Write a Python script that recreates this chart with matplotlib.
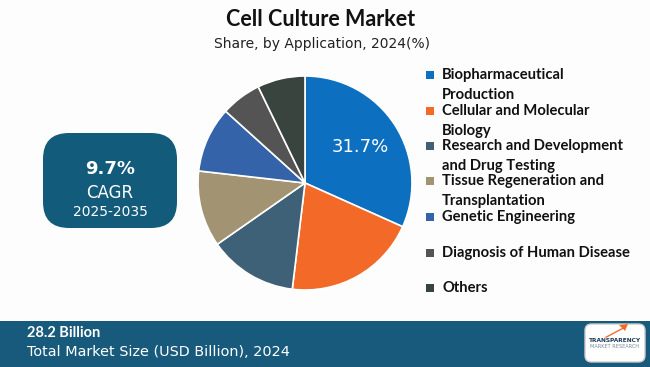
import matplotlib
matplotlib.use("Agg")
import matplotlib.pyplot as plt
from matplotlib.patches import FancyBboxPatch, Rectangle
import numpy as np

# data
applications = ["Biopharmaceutical\nProduction", "Cellular and Molecular\nBiology",
                "Research and Development\nand Drug Testing", "Tissue Regeneration and\nTransplantation",
                "Genetic Engineering", "Diagnosis of Human Disease", "Others"]
shares = [31.7, 20.2, 13.4, 11.5, 9.9, 6.1, 7.2]
colors = ["#0d6fc0", "#f36a28", "#3f6177", "#a29473", "#3463a9", "#545454", "#3a443f"]
cagr = "9.7%"
cagr_period = "2025-2035"
market_size = "28.2 Billion"

W, H = 650, 367
fig = plt.figure(figsize=(W / 100, H / 100), dpi=100, facecolor="#fdfdfd")

def fx(x):
    return x / W

def fy(y):
    return 1 - y / H

# titles
fig.text(fx(321), fy(20), "Cell Culture Market", ha="center", va="center",
         fontsize=15.5, fontweight="bold", family="Lato", color="#111111")
fig.text(fx(322), fy(44), "Share, by Application, 2024(%)", ha="center", va="center",
         fontsize=10, family="DejaVu Sans", color="#222222")

# pie
cx, cy, r = 305, 183, 107
ax = fig.add_axes([fx(cx - r), fy(cy + r), 2 * r / W, 2 * r / H])
wedges, _ = ax.pie(shares, colors=colors, startangle=90, counterclock=False,
                   wedgeprops=dict(edgecolor="white", linewidth=1.2))
ax.set_xlim(-1, 1)
ax.set_ylim(-1, 1)
ax.set_aspect("equal")
w0 = wedges[0]
mid = np.deg2rad((w0.theta1 + w0.theta2) / 2)
ax.text(0.62 * np.cos(mid), 0.62 * np.sin(mid), f"{shares[0]}%", ha="center", va="center",
        fontsize=13, color="white", family="DejaVu Sans")

# legend
leg_y = [75, 111, 146, 181, 217, 253, 288]
for lab, col, y in zip(applications, colors, leg_y):
    fig.patches.append(Rectangle((fx(426), fy(y + 4)), 8 / W, 8 / H, transform=fig.transFigure,
                                 facecolor=col, edgecolor="none"))
    lines = lab.split("\n")
    for i, line in enumerate(lines):
        fig.text(fx(442), fy(y + 20 * i), line, ha="left", va="center",
                 fontsize=10.6, fontweight="bold", family="Lato", color="#111111")

# CAGR box
fig.patches.append(FancyBboxPatch((fx(43), fy(228)), 134 / W, 95 / H,
                                  boxstyle="round,pad=0,rounding_size=0.04",
                                  transform=fig.transFigure, facecolor="#135b7a", edgecolor="none",
                                  mutation_aspect=W / H))
fig.text(fx(110), fy(169), cagr, ha="center", va="center", fontsize=13, fontweight="bold",
         color="white", family="DejaVu Sans")
fig.text(fx(110), fy(193), "CAGR", ha="center", va="center", fontsize=12, color="white",
         family="DejaVu Sans")
fig.text(fx(110), fy(212), cagr_period, ha="center", va="center", fontsize=10, color="white",
         family="DejaVu Sans")

# bottom band
fig.patches.append(Rectangle((0, 0), 1, 46 / H, transform=fig.transFigure,
                             facecolor="#175a7b", edgecolor="none"))
fig.text(fx(27), fy(333), market_size, ha="left", va="center", fontsize=10.5, fontweight="bold",
         color="white", family="Lato")
fig.text(fx(27), fy(352), "Total Market Size (USD Billion), 2024", ha="left", va="center",
         fontsize=10.4, color="white", family="DejaVu Sans")

# logo
fig.patches.append(FancyBboxPatch((fx(585), fy(362)), 60 / W, 38 / H,
                                  boxstyle="round,pad=0,rounding_size=0.01",
                                  transform=fig.transFigure, facecolor="white", edgecolor="#cccccc",
                                  mutation_aspect=W / H))
fig.text(fx(615), fy(341), "TRANSPARENCY", ha="center", va="center", fontsize=4.2,
         fontweight="bold", color="#1f3b5a")
fig.text(fx(615), fy(347), "MARKET RESEARCH", ha="center", va="center", fontsize=3.6,
         color="#7a8a9a")
fig.patches.append(plt.Polygon([[fx(605), fy(337)], [fx(622), fy(328)], [fx(619), fy(325)],
                                [fx(628), fy(324)], [fx(625), fy(331)], [fx(623), fy(329)],
                                [fx(606), fy(338)]], closed=True, transform=fig.transFigure,
                               facecolor="#f36a28", edgecolor="none"))

fig.savefig("out.png", dpi=100, facecolor=fig.get_facecolor())
